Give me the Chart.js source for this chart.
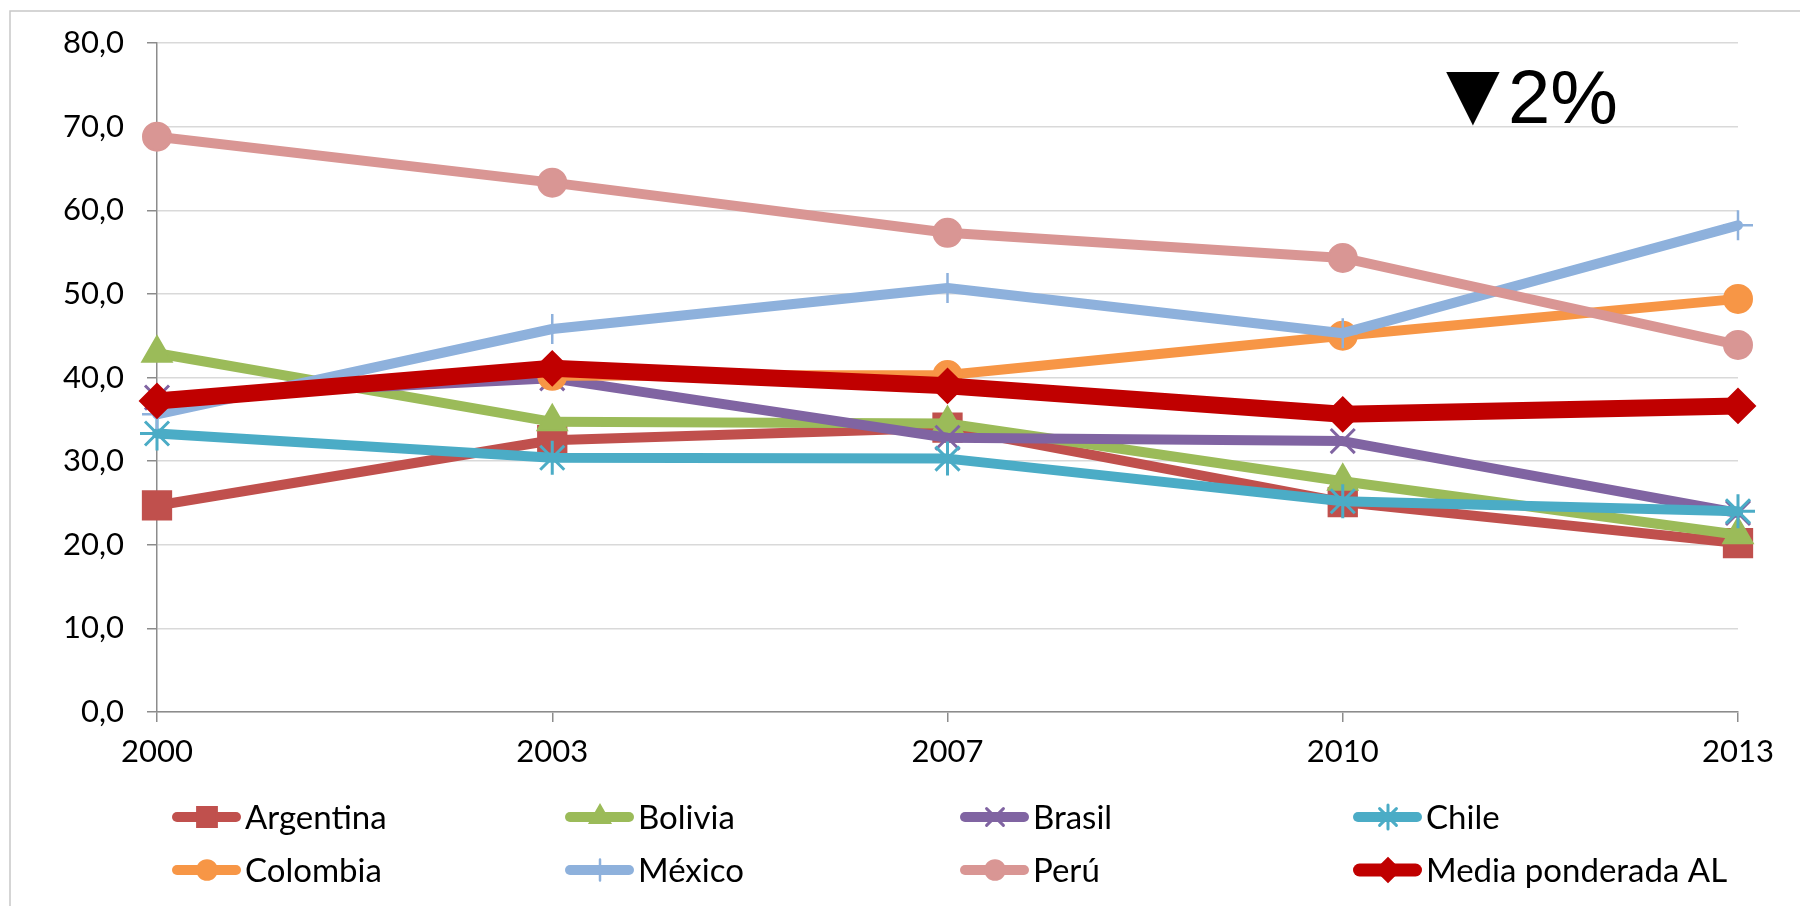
<!DOCTYPE html>
<html lang="es">
<head>
<meta charset="utf-8">
<title>Tasas 2000-2013</title>
<script src="https://cdn.jsdelivr.net/npm/chart.js@4.4.1/dist/chart.umd.min.js"></script>
<style>
    html, body { margin: 0; padding: 0; background: #ffffff; }
    #quadro { width: 1800px; height: 906px; position: relative; }
</style>
</head>
<body>
<div id="quadro"><canvas id="grafico"></canvas></div>
<script>
// dados
const anos = ["2000", "2003", "2007", "2010", "2013"];

const argentina = [24.7, 32.5, 34.0, 25.1, 20.2];
const bolivia   = [42.9, 34.7, 34.5, 27.6, 21.2];
const brasil    = [37.6, 39.9, 32.8, 32.4, 23.8];
const chile     = [33.3, 30.4, 30.3, 25.2, 24.0];
const colombia  = [null, 40.2, 40.3, 45.0, 49.4];
const mexico    = [35.6, 45.8, 50.7, 45.3, 58.2];
const peru      = [68.8, 63.3, 57.3, 54.3, 43.9];
const mediaAL   = [37.2, 41.1, 39.0, 35.6, 36.6];

const nomesSeries = ["Argentina", "Bolivia", "Brasil", "Chile", "Colombia", "México", "Perú", "Media ponderada AL"];
const valoresSeries = [argentina, bolivia, brasil, chile, colombia, mexico, peru, mediaAL];

const eixoYMin = 0;
const eixoYMax = 80;
const eixoYPasso = 10;

const destaqueSimbolo = "▼";
const destaqueTexto = "2%";

// aparencia de cada serie
const estilos = [
    { cor: "#C0504D", ponto: "rect",     raio: 20, borda: 2, linha: 10 },
    { cor: "#9BBB59", ponto: "triangle", raio: 17, borda: 2, linha: 10 },
    { cor: "#8064A2", ponto: "crossRot", raio: 17, borda: 3, linha: 10 },
    { cor: "#4BACC6", ponto: "star",     raio: 17, borda: 3, linha: 10 },
    { cor: "#F79646", ponto: "circle",   raio: 14, borda: 2, linha: 10 },
    { cor: "#8EB1DC", ponto: "cross",    raio: 15, borda: 2.5, linha: 10 },
    { cor: "#D99694", ponto: "circle",   raio: 14, borda: 2, linha: 10 },
    { cor: "#C00000", ponto: "rectRot",  raio: 17, borda: 2, linha: 17 }
];

const fonte = "Lato";
const corEixo = "#8C8C8C";

function formatarValor(v) {
    return Number(v).toFixed(1).replace(".", ",");
}

const datasets = valoresSeries.map((valores, i) => ({
    label: nomesSeries[i],
    data: valores,
    borderColor: estilos[i].cor,
    backgroundColor: estilos[i].cor,
    borderWidth: estilos[i].linha,
    borderCapStyle: "round",
    borderJoinStyle: "round",
    pointStyle: estilos[i].ponto,
    pointRadius: estilos[i].raio,
    pointBorderWidth: estilos[i].borda,
    pointBackgroundColor: estilos[i].cor,
    pointBorderColor: estilos[i].cor,
    tension: 0,
    spanGaps: false,
    fill: false,
    order: valoresSeries.length - i
}));

const molduraPlugin = {
    id: "moldura",
    beforeDraw(chart) {
        const ctx = chart.ctx;
        ctx.save();
        ctx.fillStyle = "#ffffff";
        ctx.fillRect(0, 0, chart.width, chart.height);
        ctx.strokeStyle = "#C8C8C8";
        ctx.lineWidth = 1.5;
        ctx.beginPath();
        ctx.moveTo(10, chart.height);
        ctx.lineTo(10, 11);
        ctx.lineTo(chart.width, 11);
        ctx.stroke();
        ctx.restore();
    }
};

const legendaPlugin = {
    id: "legendaGrade",
    afterDraw(chart) {
        const ctx = chart.ctx;
        const colunas = [172, 565, 960, 1353];
        const linhas = [817, 870];

        chart.data.datasets.forEach((ds, i) => {
            const x = colunas[i % 4];
            const y = linhas[Math.floor(i / 4)];
            const espessura = Math.min(ds.borderWidth, 13);

            ctx.save();
            ctx.strokeStyle = ds.borderColor;
            ctx.lineWidth = espessura;
            ctx.lineCap = "round";
            ctx.beginPath();
            ctx.moveTo(x + espessura / 2, y);
            ctx.lineTo(x + 69 - espessura / 2, y);
            ctx.stroke();

            ctx.fillStyle = ds.pointBackgroundColor;
            ctx.strokeStyle = ds.pointBorderColor;
            ctx.lineWidth = ds.pointBorderWidth;
            Chart.helpers.drawPoint(ctx, {
                pointStyle: ds.pointStyle,
                radius: ds.pointRadius * 0.7,
                borderWidth: ds.pointBorderWidth,
                rotation: 0
            }, x + 35, y);

            ctx.fillStyle = "#000000";
            ctx.font = `33px ${fonte}`;
            ctx.textAlign = "left";
            ctx.textBaseline = "middle";
            ctx.fillText(ds.label, x + 73, y + 1);
            ctx.restore();
        });
    }
};

const destaquePlugin = {
    id: "destaque",
    afterDraw(chart) {
        const ctx = chart.ctx;
        ctx.save();
        ctx.fillStyle = "#000000";
        ctx.textAlign = "left";
        ctx.textBaseline = "alphabetic";

        ctx.font = '70px "DejaVu Sans"';
        let m = ctx.measureText(destaqueSimbolo);
        ctx.fillText(destaqueSimbolo, 1446 + m.actualBoundingBoxLeft, 72 + m.actualBoundingBoxAscent);

        ctx.font = '76px "Liberation Sans"';
        m = ctx.measureText(destaqueTexto);
        ctx.fillText(destaqueTexto, 1511 + m.actualBoundingBoxLeft, 70 + m.actualBoundingBoxAscent);
        ctx.restore();
    }
};

new Chart(document.getElementById("grafico"), {
    type: "line",
    data: {
        labels: anos,
        datasets: datasets
    },
    options: {
        responsive: true,
        maintainAspectRatio: false,
        animation: false,
        layout: {
            padding: { left: 0, right: 62, top: 43, bottom: 134 }
        },
        plugins: {
            legend: { display: false },
            tooltip: { enabled: false }
        },
        scales: {
            x: {
                type: "category",
                offset: false,
                grid: {
                    drawOnChartArea: false,
                    drawTicks: true,
                    tickLength: 10,
                    tickColor: corEixo,
                    lineWidth: 1.5
                },
                border: { color: corEixo, width: 1.5 },
                ticks: {
                    font: { family: fonte, size: 31 },
                    color: "#000000",
                    padding: 11,
                    maxRotation: 0,
                    autoSkip: false
                },
                afterFit(scale) { scale.height = 60; }
            },
            y: {
                min: eixoYMin,
                max: eixoYMax,
                grid: {
                    color: "#D9D9D9",
                    lineWidth: 1.5,
                    tickColor: corEixo,
                    tickLength: 10
                },
                border: { color: corEixo, width: 1.5 },
                ticks: {
                    stepSize: eixoYPasso,
                    callback: v => formatarValor(v),
                    font: { family: fonte, size: 31 },
                    color: "#000000",
                    padding: 23
                },
                afterFit(scale) { scale.width = 157; }
            }
        }
    },
    plugins: [molduraPlugin, legendaPlugin, destaquePlugin]
});
</script>
</body>
</html>
